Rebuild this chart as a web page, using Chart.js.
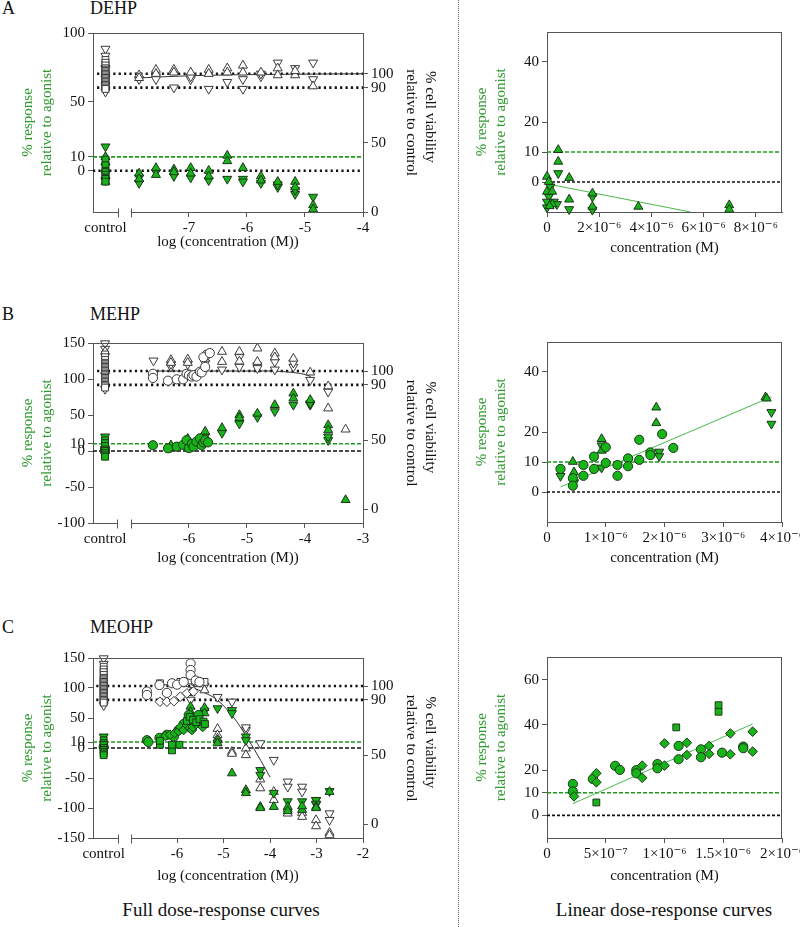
<!DOCTYPE html>
<html><head><meta charset="utf-8">
<script src="https://cdn.jsdelivr.net/npm/chart.js"></script>
<style>
html,body{margin:0;padding:0;background:#fff;width:800px;height:927px;overflow:hidden;position:relative;font-family:"Liberation Serif","Times New Roman",serif;color:#111}
canvas{position:absolute}
.t{position:absolute;line-height:1;white-space:nowrap;font-size:18px}
.cap{position:absolute;line-height:1;white-space:nowrap;font-size:19px;width:260px;text-align:center}
.divider{position:absolute;left:458px;top:0;height:927px;border-left:1px dotted #666}
</style></head><body>
<div class="t" style="left:2px;top:-1px">A</div>
<div class="t" style="left:90px;top:-1px">DEHP</div>
<div class="t" style="left:2px;top:305px">B</div>
<div class="t" style="left:90px;top:305px">MEHP</div>
<div class="t" style="left:2px;top:618px">C</div>
<div class="t" style="left:90px;top:618px">MEOHP</div>
<div class="cap" style="left:91px;top:900px">Full dose-response curves</div>
<div class="cap" style="left:534px;top:900px">Linear dose-response curves</div>
<div class="divider"></div>
<script>
// ================= DATA =================
// ---- A: DEHP (log panel) ----
const dehpLog = [-7.86,-7.57,-7.26,-6.97,-6.66,-6.34,-6.07,-5.76,-5.47,-5.17,-4.86];
const dehpCtrlRespUp = [10, 6, 1, -4, -8];
const dehpCtrlRespDown = [17.5, 3, -2, -7];
const dehpCtrlRespSq = [8, 4, 0, -1, -3, -5, -6, -8];
const dehpRespUp = [[0,-2],[0,-6],[1,2],[1,-3],[2,1],[2,-1],[3,2],[3,-2],[4,0],[4,-4],[5,11],[5,7],[6,2],[7,-4],[7,-7],[8,-8],[9,-8],[9,-12],[10,-25],[10,-28]];
const dehpRespDown = [[0,-5],[0,-9],[1,-1],[2,-4],[3,-5],[4,-7],[5,-6],[6,-6],[6,-8],[7,-9],[8,-12],[8,-10],[9,-17],[9,-14],[10,-19]];
const dehpCtrlViaSq = [110,108,106,104,103,102,101,100,99,98,97,96,95,94,93,92,91,90,89];
const dehpCtrlViaUp = [107, 100, 95];
const dehpCtrlViaDown = [118, 113, 104, 87];
const dehpViaUp = [[0,99],[0,97],[1,103],[1,100],[2,103],[2,101],[3,101],[4,103],[4,100],[5,104],[5,101],[6,106],[6,101],[7,101],[8,104],[8,99],[9,99],[9,102],[10,91]];
const dehpViaDown = [[0,96],[1,98],[1,96],[2,90],[3,96],[3,98],[4,89],[5,94],[6,96],[6,89],[7,98],[7,100],[8,108],[9,104],[10,108],[10,96]];
const dehpViaFit = [[-7.86,97],[-6.9,98.7],[-5.5,99.6],[-4.0,100]];
// ---- A: DEHP (linear panel) ----
const dehpLinUp = [[0.43e-6,10.7],[0.43e-6,6.8],[0.85e-6,1.4],[0.85e-6,-5.8],[1.74e-6,-3.8],[1.74e-6,-8.2],[3.5e-6,-8.2],[6.98e-6,-7.7],[6.98e-6,-9.2],[0,1.8],[0.07e-6,0.1],[0,-3.2],[0.2e-6,-3.2],[0.2e-6,-7.4],[0.1e-6,-8]];
const dehpLinDown = [[0.43e-6,2.9],[0.85e-6,-9.1],[1.74e-6,-4.9],[1.74e-6,-9.3],[0.13e-6,-1.6],[0.07e-6,-4.9],[0,-6.6],[0.26e-6,-6.6],[0.38e-6,-7.4],[0,-8.5]];
const dehpLinFit = [[0.05e-6,-0.7],[5.5e-6,-10]];
// ---- B: MEHP (log panel) ----
const mehpLog = [-6.61,-6.31,-6.02,-5.72,-5.43,-5.13,-4.82,-4.52,-4.20,-3.91,-3.60,-3.30];
const mehpCtrlRespSq = [15, 11, 7, 2, 0, -3, -6, -8];
const mehpCtrlRespCircle = [4, -1];
const mehpCtrlRespDown = [20];
const mehpRespCircle = [[-6.62,8],[-6.36,3.7],[-6.21,6],[-6.10,8.5],[-6.04,15],[-6.0,4],[-5.95,10],[-5.92,6],[-5.87,13],[-5.81,17.5],[-5.78,8],[-5.75,12],[-5.72,15],[-5.67,12]];
const mehpRespUp = [[1,8],[2,17],[3,27],[4,32],[5,50],[5,46],[6,52],[7,64],[8,80],[8,73],[9,71],[10,36],[10,29],[11,-68]];
const mehpRespDown = [[1,5],[2,12],[3,20],[4,25],[5,38],[6,47],[7,55],[8,64],[9,64],[9,66],[10,15],[10,20]];
const mehpCtrlViaSq = [112,110,108,106,105,104,103,102,101,100,99,98,97,96,95,94,93,92,91,90,89,88];
const mehpCtrlViaDown = [120, 116, 87];
const mehpCtrlViaUp = [114, 100];
const mehpViaCircle = [[-6.62,98],[-6.62,95],[-6.36,93],[-6.21,94],[-6.10,94],[-6.04,98],[-6.0,97],[-5.95,96],[-5.92,97],[-5.87,96],[-5.81,99.5],[-5.78,99],[-5.72,103],[-5.70,111.6],[-5.75,110],[-5.64,113]];
const mehpViaUp = [[1,108],[1,106],[2,108.5],[2,106],[3,111.6],[3,109],[4,114],[4,106.7],[5,114],[5,107],[6,116.4],[6,106.7],[7,112.8],[7,110],[8,109],[9,99],[10,89],[10,73],[11,57.7]];
const mehpViaDown = [[0,107.5],[1,103],[1,105],[2,105],[3,105.6],[4,101],[5,110],[5,103],[6,104],[6,102],[7,106.7],[7,101],[8,103],[8,106],[9,93.5],[10,85]];
const mehpViaFit = [[-6.62,100],[-4.6,100],[-4.3,99.3],[-4.0,97.5],[-3.9,96]];
// ---- B: MEHP (linear panel) ----
const mehpLinCircle = [[0.23e-6,7.7],[0.44e-6,4.6],[0.44e-6,2.1],[0.62e-6,9],[0.62e-6,5.4],[0.8e-6,11.8],[0.8e-6,7.7],[1.0e-6,14.9],[1.0e-6,9.7],[1.2e-6,9],[1.2e-6,5.4],[1.38e-6,11.2],[1.38e-6,8.6],[1.57e-6,17.4],[1.57e-6,10.7],[1.76e-6,13.2],[1.76e-6,12.3],[1.96e-6,19.3],[2.15e-6,14.7]];
const mehpLinUp = [[0.44e-6,10.1],[0.46e-6,6.6],[0.93e-6,17.7],[0.93e-6,13.8],[1.86e-6,28.2],[1.86e-6,23],[3.72e-6,31.6],[3.74e-6,31.2]];
const mehpLinDown = [[0.23e-6,5.3],[0.46e-6,3.1],[0.93e-6,15.5],[0.93e-6,8.1],[1.91e-6,13.4],[1.91e-6,11.9],[3.82e-6,26.6],[3.82e-6,22.7]];
const mehpLinFit = [[0.23e-6,1.7],[3.82e-6,31.7]];
// ---- C: MEOHP (log panel) ----
const meohpLog = [-5.71,-5.41,-5.13,-4.82,-4.52,-4.21,-3.92,-3.62,-3.31,-3.01,-2.72];
const meohpCtrlRespSq = [13, 8, 5, 0, -3, -6, -9, -12];
const meohpCtrlRespCircle = [2];
const meohpCtrlRespDown = [19];
const meohpRespCircle = [[-6.65,13],[-6.62,10],[-6.38,17],[-6.22,22],[-6.07,19],[-5.97,30],[-5.86,40],[-5.75,55],[-5.61,49],[-5.54,55]];
const meohpRespSquare = [[-6.37,5.5],[-6.37,12],[-6.11,-4],[-6.11,5.5],[-5.95,5.5],[-5.79,45],[-5.73,52],[-5.66,47],[-5.59,43],[-5.52,48],[-5.43,44],[-5.40,40]];
const meohpRespDiamond = [[-6.25,20],[-6.15,22],[-6.05,25],[-5.97,28],[-5.93,35],[-5.86,30],[-5.79,38],[-5.73,33],[-5.68,30],[-5.66,35],[-5.59,40],[-5.52,43],[-5.45,35]];
const meohpRespUp = [[0,69],[0,60],[1,67],[1,58],[2,13],[2,8],[3,-42],[4,-70],[4,-75],[5,-98],[5,-100],[6,-98],[7,-98],[7,-105],[8,-103],[8,-97],[9,-98],[9,-100],[10,-73]];
const meohpRespDown = [[1,62],[2,66],[3,63],[3,58],[4,19],[4,13],[5,-37],[5,-45],[6,-75],[7,-89],[8,-89],[9,-87],[9,-93],[10,-72]];
const meohpCtrlViaSq = [114,112,110,108,106,105,104,103,102,101,100,99,98,97,96,95,94,93,92,91,90,89,88];
const meohpCtrlViaDown = [120, 116, 86];
const meohpViaCircle = [[-6.65,96],[-6.65,93.5],[-6.38,100.7],[-6.22,95],[-6.11,102],[-6.0,101],[-5.86,103],[-5.71,116.4],[-5.71,111.6],[-5.71,108],[-5.6,104],[-5.52,103]];
const meohpViaSquare = [[-6.37,102],[-5.93,103],[-5.71,104],[-5.61,103],[-5.56,102],[-5.5,103],[-5.41,103]];
const meohpViaDiamond = [[-6.37,88.6],[-6.22,88.6],[-6.07,89],[-5.93,92.3],[-5.79,94.7],[-5.65,96]];
const meohpViaUp = [[0,95],[1,97],[2,69],[2,64.5],[2,62],[3,52.4],[3,51],[4,54.8],[4,50],[5,32.4],[5,26],[6,23.4],[6,17.4],[7,11],[7,7.7],[8,8.2],[8,5.3],[9,2.9],[9,-1.5],[10,-6.3],[10,-8]];
const meohpViaDown = [[0,90],[1,100],[2,92],[3,88.6],[4,68],[4,70],[5,58.5],[6,46.4],[7,30.7],[7,27],[8,27],[8,23.4],[9,17.4],[9,14],[10,7.7],[10,2.9]];
const meohpViaFit = [[-6.3,101],[-5.7,99],[-5.4,95],[-5.14,90],[-4.8,78],[-4.5,63],[-4.2,46],[-4.0,34]];
// ---- C: MEOHP (linear panel) ----
const meohpLinCircle = [[0.22e-6,13.9],[0.22e-6,10.6],[0.39e-6,16.1],[0.58e-6,21.9],[0.62e-6,20.1],[0.76e-6,20],[0.76e-6,18.6],[0.94e-6,22.7],[0.94e-6,20.8],[1.12e-6,30.7],[1.12e-6,24.8],[1.31e-6,29.2],[1.31e-6,25.7],[1.49e-6,27.7],[1.67e-6,30.4],[1.67e-6,29.7]];
const meohpLinDiamond = [[0.23e-6,8.4],[0.42e-6,18.6],[0.42e-6,14.6],[0.81e-6,22],[0.81e-6,16.6],[1.0e-6,31.8],[1.0e-6,22],[1.19e-6,32.1],[1.19e-6,26.7],[1.38e-6,30.7],[1.38e-6,27.2],[1.56e-6,36.2],[1.56e-6,27],[1.75e-6,37],[1.75e-6,28.2]];
const meohpLinSquare = [[0.42e-6,5.7],[1.10e-6,38.9],[1.46e-6,48.7],[1.46e-6,45.8]];
const meohpLinFit = [[0.22e-6,5.2],[1.75e-6,40.4]];

// ---- reference lines & tick labels ----
const viabilityRefs = [100, 90];
const responseRefs = [10, 0];
const leftTicksA = [0, 10, 50, 100];
const leftTicksBC = [-150, -100, -50, 0, 10, 50, 100, 150];
const viabTicks = [0, 50, 90, 100];
const logTicksA = [-7, -6, -5, -4];
const logTicksB = [-6, -5, -4, -3];
const logTicksC = [-6, -5, -4, -3, -2];
const linTicksA = [0, 2e-6, 4e-6, 6e-6, 8e-6];
const linLabelsA = ['0', '2×10⁻⁶', '4×10⁻⁶', '6×10⁻⁶', '8×10⁻⁶'];
const linTicksB = [0, 1e-6, 2e-6, 3e-6, 4e-6];
const linLabelsB = ['0', '1×10⁻⁶', '2×10⁻⁶', '3×10⁻⁶', '4×10⁻⁶'];
const linTicksC = [0, 5e-7, 1e-6, 1.5e-6, 2e-6];
const linLabelsC = ['0', '5×10⁻⁷', '1×10⁻⁶', '1.5×10⁻⁶', '2×10⁻⁶'];
const linYTicksAB = [0, 10, 20, 40];
const linYTicksC = [0, 10, 20, 40, 60];

// ================= STYLE =================
Chart.defaults.font.family = '"Liberation Serif","Times New Roman","DejaVu Serif",serif';
Chart.defaults.font.size = 15;
Chart.defaults.color = '#111';
const GREEN_FILL = '#16b416';
const GREEN_EDGE = '#1d351d';
const OPEN_EDGE = '#3a3a3a';
const TITLE_GREEN = '#2e9a2e';
const AXIS = '#555';
const NB = '\u00a0\u00a0\u00a0';

function pts(pairs, xs) { return pairs.map(p => ({x: xs ? xs[p[0]] : p[0], y: p[1]})); }
function ctrl(vals, cx) { return vals.map(v => ({x: cx, y: v})); }
function mk(data, shape, filled, yAxisID) {
  const ps = {up:'triangle', down:'triangle', circle:'circle', square:'rect', diamond:'rectRot'}[shape];
  return {data, yAxisID, showLine:false, clip:false,
    pointStyle: ps, pointRotation: shape === 'down' ? 180 : 0,
    pointRadius: (shape === 'up' || shape === 'down') ? 5.2 : (shape === 'circle' ? 4.6 : 4.8),
    pointBackgroundColor: filled ? GREEN_FILL : '#ffffff',
    pointBorderColor: filled ? GREEN_EDGE : OPEN_EDGE, pointBorderWidth: 1,
    order: filled ? 1 : 2};
}
function hline(x0, x1, y, yAxisID, color, dash, w) {
  return {data:[{x:x0,y},{x:x1,y}], yAxisID, showLine:true, pointRadius:0, borderColor:color,
    borderDash:dash, borderWidth:w, order:5};
}
function fit(pairs, yAxisID, color) {
  return {data: pts(pairs), yAxisID, showLine:true, pointRadius:0, borderColor:color, borderWidth:1,
    cubicInterpolationMode:'monotone', order:3};
}

const framePlugin = {
  id:'frame',
  afterDatasetsDraw(chart, args, opts) {
    const {ctx, chartArea: ca} = chart;
    ctx.save();
    ctx.strokeStyle = AXIS; ctx.lineWidth = 1;
    ctx.beginPath();
    ctx.moveTo(ca.left, ca.top + 0.5); ctx.lineTo(ca.right, ca.top + 0.5);
    if (opts.right) { ctx.moveTo(ca.right - 0.5, ca.top); ctx.lineTo(ca.right - 0.5, ca.bottom); }
    if (opts.breakAt) {
      const xs = chart.scales.x;
      const b0 = Math.round(xs.getPixelForValue(opts.breakAt[0])) + 0.5;
      const b1 = Math.round(xs.getPixelForValue(opts.breakAt[1])) + 0.5;
      const y = Math.round(ca.bottom) + 0.5;
      ctx.moveTo(ca.left, y); ctx.lineTo(b0, y);
      ctx.moveTo(b1, y); ctx.lineTo(ca.right, y);
      ctx.moveTo(b0, y - 4); ctx.lineTo(b0, y + 5);
      ctx.moveTo(b1, y - 4); ctx.lineTo(b1, y + 5);
    }
    ctx.stroke();
    ctx.restore();
  }
};

function yScale(pos, min, max, ticks, title, titlePad, width, color) {
  return {type:'linear', position:pos, min, max,
    afterBuildTicks: s => { s.ticks = ticks.map(v => ({value:v})); },
    afterFit: s => { s.width = width; },
    ticks:{autoSkip:false, padding:3, font:{size:15}},
    grid:{drawOnChartArea:false, drawTicks:true, tickLength:5, color:AXIS},
    border:{display:true, color:AXIS},
    title:{display:true, text:title, color:color, font:{size:15, lineHeight:1.27}, padding:{top:titlePad, bottom:0}}};
}

function addCanvas(left, top, w, h) {
  const cv = document.createElement('canvas');
  cv.width = w; cv.height = h;
  cv.style.left = left + 'px'; cv.style.top = top + 'px';
  cv.style.width = w + 'px'; cv.style.height = h + 'px';
  document.body.appendChild(cv);
  return cv;
}

function leftPanel(P) {
  const W = 445;
  const H = Math.round(P.titleY + 11.5 - P.top);
  const cv = addCanvas(0, P.top, W, H);
  const xH = H - (P.area[1] - P.top);
  const ds = [];
  viabilityRefs.forEach(v => ds.push(hline(P.xmin + 0.07, P.xmax, v, 'y2', '#111', [2.2, 3.2], 2.6)));
  ds.push(hline(P.xmin, P.xmax, responseRefs[0], 'y', '#1e9a1e', [4, 2], 1.6));
  if (P.zeroDotted) ds.push(hline(P.xmin, P.xmax, responseRefs[1], 'y', '#111', [2.2, 3.2], 2.6));
  else ds.push(hline(P.xmin, P.xmax, responseRefs[1], 'y', '#111', [4, 2], 1.6));
  ds.push(fit(P.viaFit, 'y2', '#333'));
  P.sets.forEach(s => ds.push(s));
  return new Chart(cv, {
    type:'scatter', data:{datasets:ds},
    options:{responsive:false, animation:false, devicePixelRatio:1,
      layout:{padding:{top:P.area[0] - P.top, left:0, right:0, bottom:0}},
      plugins:{legend:{display:false}, tooltip:{enabled:false}, frame:{breakAt:P.breakAt}},
      scales:{
        x:{type:'linear', min:P.xmin, max:P.xmax,
          afterBuildTicks: s => { s.ticks = [P.ctrl].concat(P.xticks).map(v => ({value:v})); },
          afterFit: s => { s.height = xH; },
          ticks:{autoSkip:false, maxRotation:0, padding:2, font:{size:15},
            callback:(v) => v === P.ctrl ? 'control' : String(v)},
          grid:{drawOnChartArea:false, tickLength:5, color:AXIS,
            tickColor: c => (c.tick && c.tick.value === P.ctrl) ? 'rgba(0,0,0,0)' : AXIS},
          border:{display:false},
          title:{display:true, text:'log (concentration (M))', font:{size:15, lineHeight:1.27}, padding:{top:0, bottom:2}}},
        y: yScale('left', P.ymin, P.ymax, P.yticks, ['% response', 'relative to agonist'], 18.5, 93, TITLE_GREEN),
        y2: yScale('right', P.vmin, P.vmax, viabTicks, ['% cell viability' + NB, 'relative to control'], 5.5, W - 363, '#111')
      }},
    plugins:[framePlugin]
  });
}

function rightPanel(P) {
  const L = 460, W = 360;
  const H = Math.round(P.titleY + 11.5 - P.top);
  const cv = addCanvas(L, P.top, W, H);
  const xH = H - (P.area[1] - P.top);
  const ds = [];
  ds.push(hline(0, P.xmax, responseRefs[0], 'y', '#1e9a1e', [4, 2], 1.6));
  ds.push(hline(0, P.xmax, responseRefs[1], 'y', '#111', [3, 2], 1.6));
  ds.push(fit(P.fit, 'y', '#48b848'));
  P.sets.forEach(s => ds.push(s));
  return new Chart(cv, {
    type:'scatter', data:{datasets:ds},
    options:{responsive:false, animation:false, devicePixelRatio:1,
      layout:{padding:{top:P.area[0] - P.top, left:0, right:W - (782 - L), bottom:0}},
      plugins:{legend:{display:false}, tooltip:{enabled:false}, frame:{right:true}},
      scales:{
        x:{type:'linear', min:0, max:P.xmax,
          afterBuildTicks: s => { s.ticks = P.xticks.map(v => ({value:v})); },
          afterFit: s => { s.height = xH; },
          ticks:{autoSkip:false, maxRotation:0, padding:2, font:{size:15},
            callback:(v, i) => P.xlabels[i]},
          grid:{drawOnChartArea:false, tickLength:5, color:AXIS},
          border:{display:true, color:AXIS},
          title:{display:true, text:'concentration (M)', font:{size:15, lineHeight:1.27}, padding:{top:0, bottom:2}}},
        y: yScale('left', -10, P.ymax, P.yticks, ['% response', 'relative to agonist'], 12.5, 547 - L, TITLE_GREEN)
      }},
    plugins:[framePlugin]
  });
}

// ================= PANELS =================
const CA = -8.44, CB = -7.445, CC = -7.58;
leftPanel({top:0, area:[33,212], titleY:242.5, xmin:-8.655, xmax:-4, ctrl:CA, xticks:logTicksA, breakAt:[-8.224,-8.0],
  ymin:-30, ymax:100, yticks:leftTicksA, vmin:0, vmax:129.5, zeroDotted:true, viaFit:dehpViaFit,
  sets:[
    mk(ctrl(dehpCtrlViaSq, CA), 'square', false, 'y2'), mk(ctrl(dehpCtrlViaUp, CA), 'up', false, 'y2'), mk(ctrl(dehpCtrlViaDown, CA), 'down', false, 'y2'),
    mk(pts(dehpViaUp, dehpLog), 'up', false, 'y2'), mk(pts(dehpViaDown, dehpLog), 'down', false, 'y2'),
    mk(ctrl(dehpCtrlRespSq, CA), 'square', true, 'y'), mk(ctrl(dehpCtrlRespUp, CA), 'up', true, 'y'), mk(ctrl(dehpCtrlRespDown, CA), 'down', true, 'y'),
    mk(pts(dehpRespUp, dehpLog), 'up', true, 'y'), mk(pts(dehpRespDown, dehpLog), 'down', true, 'y')
  ]});
leftPanel({top:310, area:[343,523], titleY:558, xmin:-7.653, xmax:-3, ctrl:CB, xticks:logTicksB, breakAt:[-7.235,-7.0],
  ymin:-100, ymax:150, yticks:leftTicksBC.filter(v => v >= -100), vmin:-10.1, vmax:120.3, zeroDotted:false, viaFit:mehpViaFit,
  sets:[
    mk(ctrl(mehpCtrlViaSq, CB), 'square', false, 'y2'), mk(ctrl(mehpCtrlViaUp, CB), 'up', false, 'y2'), mk(ctrl(mehpCtrlViaDown, CB), 'down', false, 'y2'),
    mk(pts(mehpViaCircle), 'circle', false, 'y2'),
    mk(pts(mehpViaUp, mehpLog), 'up', false, 'y2'), mk(pts(mehpViaDown, mehpLog), 'down', false, 'y2'),
    mk(ctrl(mehpCtrlRespSq, CB), 'square', true, 'y'), mk(ctrl(mehpCtrlRespCircle, CB), 'circle', true, 'y'), mk(ctrl(mehpCtrlRespDown, CB), 'down', true, 'y'),
    mk(pts(mehpRespCircle), 'circle', true, 'y'),
    mk(pts(mehpRespUp, mehpLog), 'up', true, 'y'), mk(pts(mehpRespDown, mehpLog), 'down', true, 'y')
  ]});
leftPanel({top:625, area:[658,838], titleY:876, xmin:-7.81, xmax:-2, ctrl:CC, xticks:logTicksC, breakAt:[-7.28,-7.0],
  ymin:-150, ymax:150, yticks:leftTicksBC, vmin:-10.1, vmax:120.3, zeroDotted:false, viaFit:meohpViaFit,
  sets:[
    mk(ctrl(meohpCtrlViaSq, CC), 'square', false, 'y2'), mk(ctrl(meohpCtrlViaDown, CC), 'down', false, 'y2'),
    mk(pts(meohpViaCircle), 'circle', false, 'y2'), mk(pts(meohpViaSquare), 'square', false, 'y2'), mk(pts(meohpViaDiamond), 'diamond', false, 'y2'),
    mk(pts(meohpViaUp, meohpLog), 'up', false, 'y2'), mk(pts(meohpViaDown, meohpLog), 'down', false, 'y2'),
    mk(ctrl(meohpCtrlRespSq, CC), 'square', true, 'y'), mk(ctrl(meohpCtrlRespCircle, CC), 'circle', true, 'y'), mk(ctrl(meohpCtrlRespDown, CC), 'down', true, 'y'),
    mk(pts(meohpRespSquare), 'square', true, 'y'), mk(pts(meohpRespDiamond), 'diamond', true, 'y'), mk(pts(meohpRespCircle), 'circle', true, 'y'),
    mk(pts(meohpRespUp, meohpLog), 'up', true, 'y'), mk(pts(meohpRespDown, meohpLog), 'down', true, 'y')
  ]});

rightPanel({top:0, area:[32,212], titleY:248, xmax:9e-6, xticks:linTicksA, xlabels:linLabelsA, ymax:50, yticks:linYTicksAB, fit:dehpLinFit,
  sets:[mk(pts(dehpLinUp), 'up', true, 'y'), mk(pts(dehpLinDown), 'down', true, 'y')]});
rightPanel({top:310, area:[342,522], titleY:558, xmax:4e-6, xticks:linTicksB, xlabels:linLabelsB, ymax:50, yticks:linYTicksAB, fit:mehpLinFit,
  sets:[mk(pts(mehpLinCircle), 'circle', true, 'y'), mk(pts(mehpLinUp), 'up', true, 'y'), mk(pts(mehpLinDown), 'down', true, 'y')]});
rightPanel({top:625, area:[657,838], titleY:876, xmax:2e-6, xticks:linTicksC, xlabels:linLabelsC, ymax:70, yticks:linYTicksC, fit:meohpLinFit,
  sets:[mk(pts(meohpLinSquare), 'square', true, 'y'), mk(pts(meohpLinDiamond), 'diamond', true, 'y'), mk(pts(meohpLinCircle), 'circle', true, 'y')]});
</script>
</body></html>
